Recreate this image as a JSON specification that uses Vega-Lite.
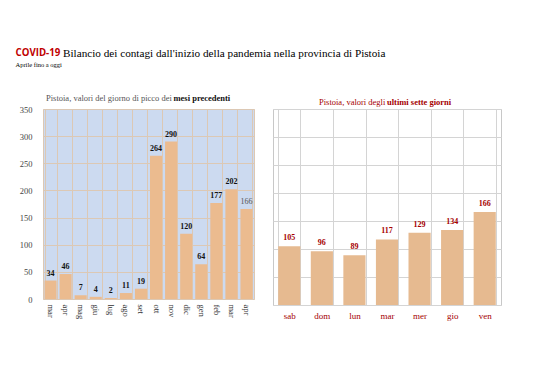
{
  "$schema": "https://vega.github.io/schema/vega-lite/v6.json",
  "background": "white",
  "padding": {"left": 13, "top": 47, "right": 5, "bottom": 5},
  "config": {
    "view": {"stroke": null},
    "font": "Liberation Serif",
    "concat": {"spacing": 17}
  },
  "title": {
    "text": "COVID-19",
    "subtitle": "\u200b\u00a0\u00a0\u00a0\u00a0\u00a0\u00a0\u00a0\u00a0\u00a0\u00a0\u00a0\u00a0\u00a0\u00a0\u00a0\u00a0\u00a0Bilancio dei contagi dall'inizio della pandemia nella provincia di Pistoia",
    "anchor": "start",
    "dx": 2,
    "font": "Open Sans",
    "fontSize": 9.7,
    "fontWeight": "bold",
    "color": "#C00000",
    "subtitleFont": "Liberation Serif",
    "subtitleFontSize": 11.2,
    "subtitleColor": "#000000",
    "subtitlePadding": -10.5,
    "offset": 2
  },
  "vconcat": [
    {
      "title": {
        "text": "Aprile fino a oggi",
        "anchor": "start",
        "dx": 2,
        "font": "Liberation Serif",
        "fontSize": 6.5,
        "fontWeight": "normal",
        "color": "#000000",
        "offset": 25
      },
      "hconcat": [
        {
          "width": 211,
          "height": 190,
          "title": {
            "text": "Pistoia, valori del giorno di picco dei",
            "subtitle": "\u200b\u00a0\u00a0\u00a0\u00a0\u00a0\u00a0\u00a0\u00a0\u00a0\u00a0\u00a0\u00a0\u00a0\u00a0\u00a0\u00a0\u00a0\u00a0\u00a0\u00a0\u00a0\u00a0\u00a0\u00a0\u00a0\u00a0\u00a0\u00a0\u00a0\u00a0\u00a0\u00a0\u00a0\u00a0\u00a0\u00a0\u00a0\u00a0\u00a0\u00a0\u00a0\u00a0\u00a0\u00a0\u00a0\u00a0\u00a0\u00a0\u00a0\u00a0\u00a0\u00a0\u00a0\u00a0\u00a0\u00a0\u00a0\u00a0\u00a0\u00a0mesi precedenti",
            "anchor": "start",
            "frame": "group",
            "dx": 3,
            "font": "Liberation Serif",
            "fontSize": 8.5,
            "fontWeight": "normal",
            "color": "#555555",
            "subtitleFont": "Liberation Serif",
            "subtitleFontSize": 8.5,
            "subtitleFontWeight": "bold",
            "subtitleColor": "#111111",
            "subtitlePadding": -8.5,
            "offset": 3
          },
          "view": {"fill": "#CCDAF0", "stroke": "#DCC8B4"},
          "data": {
            "values": [
              {"mese": "mar 2020", "casi": 34},
              {"mese": "apr 2020", "casi": 46},
              {"mese": "mag 2020", "casi": 7},
              {"mese": "giu 2020", "casi": 4},
              {"mese": "lug 2020", "casi": 2},
              {"mese": "ago 2020", "casi": 11},
              {"mese": "set 2020", "casi": 19},
              {"mese": "ott 2020", "casi": 264},
              {"mese": "nov 2020", "casi": 290},
              {"mese": "dic 2020", "casi": 120},
              {"mese": "gen 2021", "casi": 64},
              {"mese": "feb 2021", "casi": 177},
              {"mese": "mar 2021", "casi": 202},
              {"mese": "apr 2021", "casi": 166}
            ]
          },
          "encoding": {
            "x": {
              "field": "mese",
              "type": "ordinal",
              "sort": null,
              "title": null,
              "scale": {"paddingInner": 0.2, "paddingOuter": 0.1},
              "axis": {
                "labelAngle": 90,
                "labelExpr": "split(datum.label, ' ')[0]",
                "labelFont": "Liberation Serif",
                "labelFontSize": 8.5,
                "labelColor": "#333333",
                "labelPadding": 5,
                "ticks": false,
                "domain": false,
                "grid": true,
                "tickBand": "extent",
                "gridColor": "#DCC8B4",
                "gridOpacity": 1
              }
            },
            "y": {
              "field": "casi",
              "type": "quantitative",
              "title": null,
              "scale": {"domain": [0, 350], "nice": false},
              "axis": {
                "values": [0, 50, 100, 150, 200, 250, 300, 350],
                "labelFont": "Liberation Serif",
                "labelFontSize": 8.5,
                "labelColor": "#444444",
                "labelPadding": 11,
                "minExtent": 29,
                "ticks": false,
                "domain": false,
                "grid": true,
                "gridColor": "#DCC8B4",
                "gridOpacity": 1
              }
            }
          },
          "layer": [
            {"mark": {"type": "bar", "color": "#EBBB8F"}},
            {
              "transform": [{"filter": "datum.mese != 'apr 2021'"}],
              "mark": {"type": "text", "baseline": "bottom", "dy": -3, "font": "Liberation Serif", "fontSize": 8, "fontWeight": "bold", "color": "#111111"},
              "encoding": {"text": {"field": "casi", "type": "quantitative"}}
            },
            {
              "transform": [{"filter": "datum.mese == 'apr 2021'"}],
              "mark": {"type": "text", "baseline": "bottom", "dy": -3, "font": "Liberation Serif", "fontSize": 8, "fontWeight": "normal", "color": "#555555"},
              "encoding": {"text": {"field": "casi", "type": "quantitative"}}
            }
          ]
        },
        {
          "width": 228,
          "height": 196,
          "title": {
            "text": "Pistoia, valori degli",
            "subtitle": "\u200b\u00a0\u00a0\u00a0\u00a0\u00a0\u00a0\u00a0\u00a0\u00a0\u00a0\u00a0\u00a0\u00a0\u00a0\u00a0\u00a0\u00a0\u00a0\u00a0\u00a0\u00a0\u00a0\u00a0\u00a0\u00a0\u00a0\u00a0\u00a0\u00a0\u00a0\u00a0\u00a0ultimi sette giorni",
            "anchor": "start",
            "frame": "group",
            "dx": 46,
            "font": "Liberation Serif",
            "fontSize": 8.5,
            "fontWeight": "normal",
            "color": "#A50000",
            "subtitleFont": "Liberation Serif",
            "subtitleFontSize": 8.5,
            "subtitleFontWeight": "bold",
            "subtitleColor": "#A50000",
            "subtitlePadding": -8.5,
            "offset": 3
          },
          "view": {"fill": "white", "stroke": "#C8C8C8"},
          "data": {
            "values": [
              {"giorno": "sab", "casi": 105},
              {"giorno": "dom", "casi": 96},
              {"giorno": "lun", "casi": 89},
              {"giorno": "mar", "casi": 117},
              {"giorno": "mer", "casi": 129},
              {"giorno": "gio", "casi": 134},
              {"giorno": "ven", "casi": 166}
            ]
          },
          "encoding": {
            "x": {
              "field": "giorno",
              "type": "ordinal",
              "sort": null,
              "title": null,
              "scale": {"paddingInner": 0.32, "paddingOuter": 0.16},
              "axis": {
                "labelAngle": 0,
                "labelFont": "Liberation Serif",
                "labelFontSize": 9,
                "labelColor": "#A50000",
                "labelPadding": 6,
                "ticks": false,
                "domain": false,
                "grid": true,
                "tickBand": "extent",
                "gridColor": "#D4D4D4",
                "gridOpacity": 1
              }
            },
            "y": {
              "field": "casi",
              "type": "quantitative",
              "title": null,
              "scale": {"domain": [0, 350], "nice": false},
              "axis": {
                "values": [0, 50, 100, 150, 200, 250, 300, 350],
                "labels": false,
                "ticks": false,
                "domain": false,
                "grid": true,
                "gridColor": "#D4D4D4",
                "gridOpacity": 1
              }
            }
          },
          "layer": [
            {"mark": {"type": "bar", "color": "#E6BA90"}},
            {
              "mark": {"type": "text", "baseline": "bottom", "dy": -4, "font": "Liberation Serif", "fontSize": 8, "fontWeight": "bold", "color": "#A50000"},
              "encoding": {"text": {"field": "casi", "type": "quantitative"}}
            }
          ]
        }
      ]
    }
  ]
}
